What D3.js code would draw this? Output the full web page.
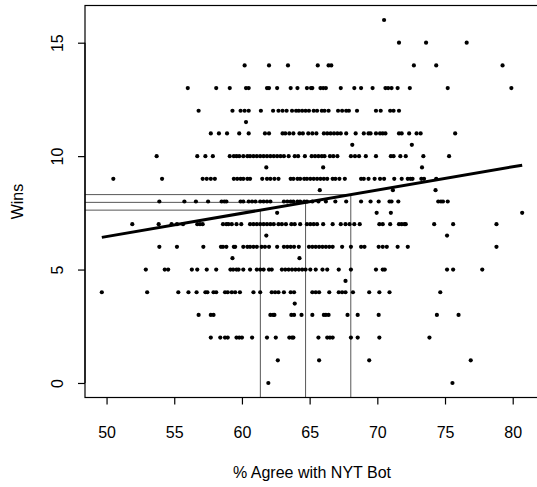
<!DOCTYPE html>
<html><head><meta charset="utf-8">
<script src="https://cdn.jsdelivr.net/npm/d3@7"></script>
<style>body{margin:0;background:#fff}svg{display:block}text{font-family:"Liberation Sans",Arial,sans-serif;fill:#000}</style>
</head><body><svg id="c" width="537" height="487"></svg>
<script>
const w16 = [70.5];
const w15 = [71.6, 73.6, 76.6];
const w14 = [60.2, 62.0, 63.4, 65.6, 66.4, 66.6, 72.7, 74.35, 79.25];
const w13 = [56.0, 58.1, 59.1, 60.3, 60.5, 61.85, 62.0, 62.6, 63.6, 64.1, 64.8, 65.1, 65.2, 65.8, 66.0, 66.2, 67.3, 68.3, 68.8, 69.65, 70.6, 70.8, 71.05, 71.5, 72.4, 75.2, 79.9];
const w12 = [56.8, 59.3, 59.9, 60.2, 60.5, 61.4, 62.3, 62.7, 63.0, 63.3, 63.7, 64.0, 64.2, 64.45, 64.7, 64.95, 65.3, 65.55, 65.9, 66.1, 66.4, 67.1, 67.4, 67.7, 67.9, 68.5, 69.9, 70.25, 70.95, 71.2, 71.6];
const w11h = [60.3];
const w11 = [57.7, 58.3, 58.9, 59.8, 60.5, 61.7, 62.0, 63.0, 63.2, 63.5, 63.8, 64.25, 64.5, 64.9, 65.2, 65.5, 66.05, 66.3, 66.55, 66.8, 67.05, 67.3, 67.7, 68.4, 69.0, 69.35, 69.5, 69.9, 70.2, 70.4, 70.6, 71.6, 71.8, 72.35, 72.9, 73.2, 75.75];
const w10h = [68.15, 72.55];
const w10 = [53.7, 56.7, 57.3, 57.85, 59.1, 59.4, 59.6, 59.8, 60.1, 60.4, 60.6, 60.85, 61.1, 61.35, 61.6, 61.85, 62.1, 62.35, 62.6, 62.85, 63.1, 63.45, 63.9, 64.15, 64.65, 65.15, 65.4, 65.65, 65.9, 66.1, 66.5, 66.75, 67.05, 68.05, 68.35, 68.65, 69.15, 69.9, 71.0, 71.2, 71.7, 72.1, 73.4, 75.3];
const w9h = [61.8, 66.0, 73.3];
const w9 = [50.5, 54.1, 57.1, 57.4, 57.7, 58.0, 59.4, 59.65, 59.9, 60.1, 60.4, 60.6, 61.5, 61.85, 62.1, 62.4, 62.7, 63.6, 63.8, 64.1, 64.3, 64.6, 64.8, 65.05, 65.3, 65.55, 65.8, 66.05, 66.3, 66.7, 66.9, 67.2, 67.6, 68.8, 69.0, 69.35, 69.8, 70.2, 70.5, 71.25, 71.8, 72.25, 72.45, 72.6, 73.25, 73.45, 74.35];
const w8h = [65.75, 71.15, 74.3];
const w8 = [53.9, 55.75, 56.6, 57.5, 58.5, 58.7, 58.85, 59.9, 60.1, 60.5, 60.75, 61.0, 61.35, 61.6, 61.85, 62.1, 63.1, 63.35, 63.6, 63.8, 64.1, 64.3, 64.6, 64.8, 65.2, 65.65, 66.2, 66.9, 67.7, 68.8, 69.5, 70.1, 70.9, 71.05, 71.55, 74.5, 74.7, 74.85, 75.2];
const w7h = [62.6, 69.95, 71.0, 80.7];
const w7 = [51.9, 53.85, 54.8, 55.2, 55.65, 56.7, 56.9, 57.1, 58.6, 58.85, 59.0, 59.25, 59.6, 59.95, 60.6, 60.85, 61.1, 61.35, 61.6, 61.85, 62.1, 62.35, 62.7, 62.95, 63.25, 63.65, 63.9, 64.3, 64.8, 65.05, 65.3, 65.55, 66.0, 66.7, 67.3, 67.65, 67.95, 68.3, 68.7, 70.15, 70.4, 70.95, 71.6, 71.8, 72.0, 72.1, 74.2, 75.6, 78.8];
const w6h = [61.8, 75.15];
const w6 = [53.9, 55.2, 57.15, 58.45, 58.6, 58.85, 59.4, 59.5, 60.1, 60.4, 60.6, 60.85, 61.1, 61.45, 61.7, 62.0, 62.6, 63.1, 63.35, 63.6, 63.85, 64.2, 64.95, 65.2, 65.45, 65.7, 65.95, 66.2, 66.45, 66.7, 67.4, 68.05, 68.8, 69.05, 70.1, 70.4, 70.7, 71.5, 72.25, 78.8];
const w5h = [59.3, 64.25];
const w5 = [52.9, 54.3, 54.55, 56.3, 56.7, 57.4, 58.1, 59.15, 59.35, 59.6, 59.75, 60.1, 60.6, 61.1, 61.35, 61.6, 62.0, 62.2, 62.95, 63.2, 63.45, 63.7, 63.95, 64.2, 64.45, 64.7, 65.05, 65.45, 65.95, 66.3, 67.15, 68.05, 69.9, 70.4, 70.55, 75.15, 75.6, 77.75];
const w4h = [67.65];
const w4 = [49.65, 53.0, 55.3, 56.05, 56.65, 57.3, 57.45, 57.9, 58.1, 58.75, 58.95, 59.25, 59.5, 59.85, 60.85, 61.35, 62.2, 62.45, 62.7, 63.1, 63.6, 63.85, 65.2, 65.45, 65.7, 66.45, 67.15, 67.4, 67.65, 68.2, 69.4, 70.15, 70.9, 74.65];
const w3h = [63.9];
const w3 = [56.8, 57.7, 57.9, 62.1, 62.3, 62.4, 63.65, 63.85, 64.4, 65.2, 66.05, 66.2, 66.4, 67.8, 68.55, 70.1, 74.4, 76.0];
const w2 = [57.7, 58.4, 58.75, 58.95, 59.6, 59.8, 60.0, 60.75, 61.85, 62.5, 63.5, 63.7, 63.8, 65.65, 66.3, 66.5, 66.7, 68.05, 68.55, 70.15, 73.85];
const w1 = [62.65, 65.7, 69.4, 76.9];
const w0 = [61.95, 75.55];

const winRows = [[16,w16],[15,w15],[14,w14],[13,w13],[12,w12],[11.5,w11h],[11,w11],[10.5,w10h],[10,w10],
  [9.5,w9h],[9,w9],[8.5,w8h],[8,w8],[7.5,w7h],[7,w7],[6.5,w6h],[6,w6],[5.5,w5h],[5,w5],[4.5,w4h],[4,w4],
  [3.5,w3h],[3,w3],[2,w2],[1,w1],[0,w0]];

const xTicks = [50, 55, 60, 65, 70, 75, 80];
const yTicks = [0, 5, 10, 15];
const fitIntercept = 1.33, fitSlope = 0.1025;
const guideX = [61.36, 64.7, 68.04];
const xLabel = "% Agree with NYT Bot", yLabel = "Wins";

const points = [];
winRows.forEach(([w, arr]) => arr.forEach(p => points.push({p, w})));
const xMin = d3.min(points, d => d.p), xMax = d3.max(points, d => d.p);
const padX = (xMax - xMin) * 0.04;

const svg = d3.select("#c");
const L = 85, R = 539, T = 5.5, B = 397.5;
const x = d3.scaleLinear().domain([xMin - padX, xMax + padX]).range([L, R]);
const y = d3.scaleLinear().domain([-0.64, 16.64]).range([B, T]);

const g = svg.append("g");
// guide lines
const pred = v => fitIntercept + fitSlope * v;
g.selectAll("line.gh").data(guideX).join("line")
  .attr("x1", L).attr("x2", d => x(d)).attr("y1", d => y(pred(d))).attr("y2", d => y(pred(d)))
  .attr("stroke", "#444").attr("stroke-width", 0.9);
g.selectAll("line.gv").data(guideX).join("line")
  .attr("x1", d => x(d)).attr("x2", d => x(d)).attr("y1", B).attr("y2", d => y(pred(d)))
  .attr("stroke", "#444").attr("stroke-width", 0.9);

// points
g.selectAll("circle").data(points).join("circle")
  .attr("cx", d => x(d.p)).attr("cy", d => y(d.w)).attr("r", 2.1).attr("fill", "#000");

// regression line
g.append("line")
  .attr("x1", x(xMin)).attr("y1", y(pred(xMin)))
  .attr("x2", x(xMax)).attr("y2", y(pred(xMax)))
  .attr("stroke", "#000").attr("stroke-width", 3);

// box
svg.append("rect").attr("x", L).attr("y", T).attr("width", R - L).attr("height", B - T)
  .attr("fill", "none").attr("stroke", "#000").attr("stroke-width", 1.2);

// x axis
const xa = svg.append("g").attr("transform", `translate(0,${B})`)
  .call(d3.axisBottom(x).tickValues(xTicks).tickSize(7).tickPadding(25).tickFormat(d3.format("d")));
xa.select(".domain").attr("d", `M${x(50)},0H${x(80)}`).attr("stroke-width", 1.2);
xa.selectAll("text").attr("font-size", 16).attr("dy", 0).attr("y", 40 - 0).attr("font-family", "Liberation Sans, Arial, sans-serif");
xa.selectAll(".tick line").attr("stroke-width", 1.2);

// y axis
const ya = svg.append("g").attr("transform", `translate(${L},0)`)
  .call(d3.axisLeft(y).tickValues(yTicks).tickSize(7).tickFormat(d3.format("d")));
ya.select(".domain").attr("d", `M0,${y(0)}V${y(15)}`).attr("stroke-width", 1.2);
ya.selectAll(".tick line").attr("stroke-width", 1.2);
ya.selectAll("text").attr("font-size", 16).attr("font-family", "Liberation Sans, Arial, sans-serif")
  .attr("x", null).attr("dy", 0).attr("text-anchor", "middle")
  .attr("transform", "translate(-22,0) rotate(-90)");

svg.append("text").attr("x", (L + R) / 2).attr("y", 478).attr("text-anchor", "middle")
  .attr("font-size", 16).text(xLabel);
svg.append("text").attr("transform", `translate(23,${(T + B) / 2}) rotate(-90)`).attr("text-anchor", "middle")
  .attr("font-size", 16).text(yLabel);
</script></body></html>
